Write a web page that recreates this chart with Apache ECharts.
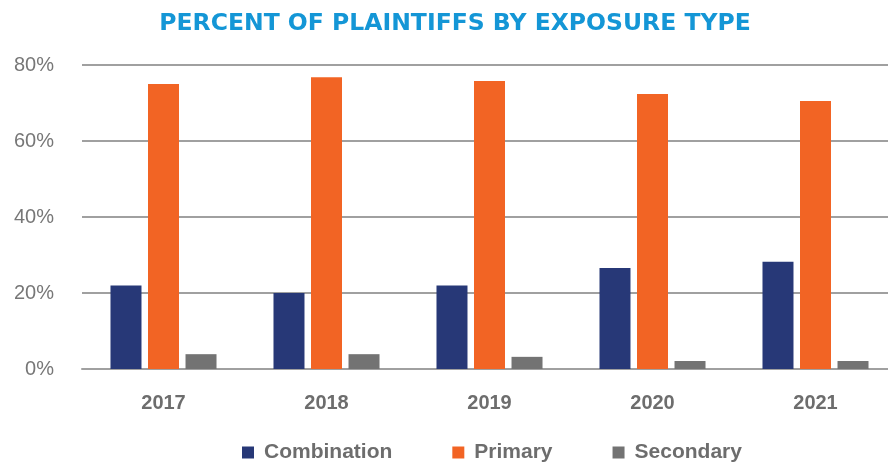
<!DOCTYPE html>
<html>
<head>
<meta charset="utf-8">
<script src="https://cdn.jsdelivr.net/npm/echarts@6/dist/echarts.min.js"></script>
<style>
 html, body { margin: 0; padding: 0; background: #fff; }
 #main { width: 888px; height: 464px; }
</style>
</head>
<body>
<div id="main"></div>
<script>
/** data **/
var years = ['2017', '2018', '2019', '2020', '2021'];
var combination = [22, 20, 22, 26.6, 28.2];
var primary = [75, 76.8, 75.8, 72.4, 70.5];
var secondary = [3.9, 3.9, 3.2, 2.1, 2.1];
var yTicks = [0, 20, 40, 60, 80];

var chart = echarts.init(document.getElementById('main'));

function barSeries(name, data, color) {
 return {
  name: name,
  type: 'bar',
  data: data,
  barWidth: 31,
  barGap: '21%',
  barCategoryGap: '35%',
  itemStyle: { color: color }
 };
}

var option = {
 animation: false,
 title: {
  text: 'PERCENT OF PLAINTIFFS BY EXPOSURE TYPE',
  left: 450,
  textAlign: 'center',
  top: 7,
  textStyle: {
   color: '#1496d6',
   fontFamily: 'DejaVu Sans',
   fontWeight: 'bold',
   fontSize: 23.5
  }
 },
 legend: {
  bottom: -4,
  left: 237,
  itemWidth: 12,
  itemHeight: 12,
  itemGap: 60,
  icon: 'rect',
  textStyle: {
   color: '#6d6d6d',
   fontFamily: 'Liberation Sans',
   fontWeight: 'bold',
   fontSize: 21,
   padding: [0, 0, 0, 5]
  },
  data: ['Combination', 'Primary', 'Secondary']
 },
 grid: {
  left: 82,
  width: 815,
  top: 65,
  bottom: 95,
  outerBoundsMode: 'none'
 },
 xAxis: {
  type: 'category',
  data: years,
  axisTick: { show: false },
  axisLine: { lineStyle: { color: '#a0a0a0', width: 2 } },
  axisLabel: {
   margin: 24,
   color: '#6d6d6d',
   fontFamily: 'Liberation Sans',
   fontWeight: 'bold',
   fontSize: 20
  }
 },
 yAxis: {
  type: 'value',
  min: yTicks[0],
  max: yTicks[yTicks.length - 1],
  interval: 20,
  axisLine: { show: false },
  axisTick: { show: false },
  splitLine: { lineStyle: { color: '#a0a0a0', width: 2 } },
  axisLabel: {
   margin: 28,
   color: '#777777',
   fontFamily: 'Liberation Sans',
   fontSize: 20,
   formatter: '{value}%'
  }
 },
 series: [
  barSeries('Combination', combination, '#273877'),
  barSeries('Primary', primary, '#f26424'),
  barSeries('Secondary', secondary, '#737373')
 ]
};

chart.setOption(option);
</script>
</body>
</html>
